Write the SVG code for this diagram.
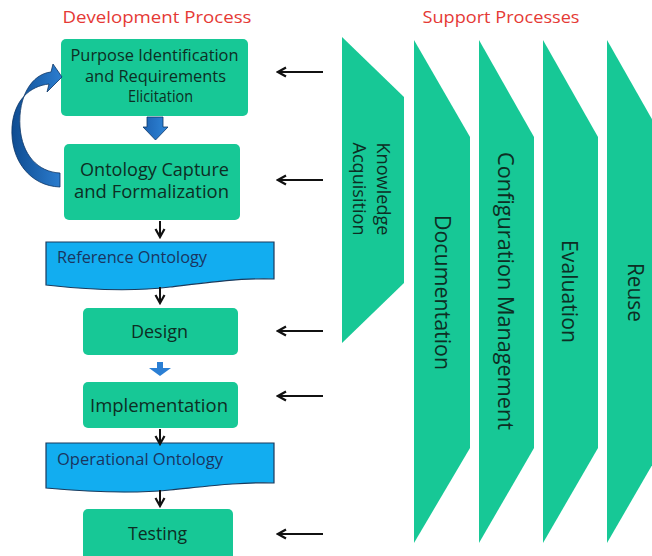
<svg xmlns="http://www.w3.org/2000/svg" width="652" height="556" viewBox="0 0 652 556">
<style>
.bg{fill:#ffffff}
.box{fill:#17c896}
.sup{fill:#17c896}
.t{font-family:"Open Sans","Liberation Sans",sans-serif;fill:#0d2e24}
.bt{font-size:18px;text-anchor:middle}
.bt16{font-size:16px;text-anchor:middle}
.title{font-family:"Open Sans","Liberation Sans",sans-serif;font-size:17px;fill:#e53935;text-anchor:middle}
.ban{fill:#12adf0;stroke:#1b3a5c;stroke-width:1.2}
.bant{font-family:"Open Sans","Liberation Sans",sans-serif;font-size:16px;fill:#1a3560}
.conn{stroke:#111;stroke-width:2;fill:none}
.blue{fill:url(#bg1);stroke:#0b3566;stroke-width:0.8}
.st{font-family:"Open Sans","Liberation Sans",sans-serif;fill:#0d2e24;text-anchor:middle}
</style>
<defs>
<marker id="ah" viewBox="0 0 12 12" refX="10" refY="6" markerWidth="12" markerHeight="12" markerUnits="userSpaceOnUse" orient="auto">
<path d="M2,1.5 L10,6 L2,10.5" fill="none" stroke="#111" stroke-width="2.2"/>
</marker>
<linearGradient id="bg1" x1="0" y1="0" x2="1" y2="0">
<stop offset="0" stop-color="#0f4c91"/>
<stop offset="1" stop-color="#2c7ed0"/>
</linearGradient>
<linearGradient id="bg2" x1="0" y1="0" x2="1" y2="0">
<stop offset="0" stop-color="#1d62b2"/>
<stop offset="1" stop-color="#2f86d8"/>
</linearGradient>
</defs>
<rect class="bg" x="0" y="0" width="652" height="556"/>

<text class="title" x="157" y="23" textLength="189" lengthAdjust="spacingAndGlyphs">Development Process</text>
<text class="title" x="501" y="23" textLength="157" lengthAdjust="spacingAndGlyphs">Support Processes</text>

<g id="support-knowledge">
<polygon class="sup" points="342,37 404,97 404,283 342,343"/>
<g transform="translate(377,189) rotate(90)">
<text class="st" x="0" y="0" font-size="18" textLength="93" lengthAdjust="spacingAndGlyphs">Knowledge</text>
<text class="st" x="0" y="24" font-size="18" textLength="93" lengthAdjust="spacingAndGlyphs">Acquisition</text>
</g>
</g>
<g id="support-documentation">
<polygon class="sup" points="414,40 470,137 470,448 414,543"/>
<text class="st" transform="translate(435,292.5) rotate(90)" font-size="21" textLength="155" lengthAdjust="spacingAndGlyphs">Documentation</text>
</g>
<g id="support-configuration">
<polygon class="sup" points="479,40 534,137 534,448 479,543"/>
<text class="st" transform="translate(498,291) rotate(90)" font-size="21" textLength="278" lengthAdjust="spacingAndGlyphs">Configuration Management</text>
</g>
<g id="support-evaluation">
<polygon class="sup" points="543,40 598,137 598,448 543,543"/>
<text class="st" transform="translate(562,291.5) rotate(90)" font-size="21" textLength="103" lengthAdjust="spacingAndGlyphs">Evaluation</text>
</g>
<g id="support-reuse">
<polygon class="sup" points="607,40 662,137 662,448 607,543"/>
<text class="st" transform="translate(628,292.5) rotate(90)" font-size="21" textLength="59" lengthAdjust="spacingAndGlyphs">Reuse</text>
</g>

<g id="purpose">
<rect class="box" x="61" y="39" width="187" height="77" rx="5"/>
<text class="t bt16" x="154.5" y="61" textLength="168" lengthAdjust="spacingAndGlyphs">Purpose Identification</text>
<text class="t bt16" x="155.5" y="82" textLength="141" lengthAdjust="spacingAndGlyphs">and Requirements</text>
<text class="t bt16" x="160.5" y="102" textLength="65" lengthAdjust="spacingAndGlyphs">Elicitation</text>
</g>
<g id="capture">
<rect class="box" x="64" y="144" width="176" height="76" rx="5"/>
<text class="t bt" x="154.5" y="176" textLength="149" lengthAdjust="spacingAndGlyphs">Ontology Capture</text>
<text class="t bt" x="151.5" y="198" textLength="155" lengthAdjust="spacingAndGlyphs">and Formalization</text>
</g>
<g id="reference-ontology">
<path class="ban" d="M46,242 H274 V279 C240,278 210,282 170,287 C130,292 90,290 46,285 Z"/>
<text class="bant" x="57" y="263" textLength="150" lengthAdjust="spacingAndGlyphs">Reference Ontology</text>
</g>
<g id="design">
<rect class="box" x="83" y="308" width="155" height="47" rx="5"/>
<text class="t bt" x="159.5" y="338" textLength="57" lengthAdjust="spacingAndGlyphs">Design</text>
</g>
<g id="implementation">
<rect class="box" x="83" y="382" width="155" height="46" rx="5"/>
<text class="t bt" x="159" y="412" textLength="138" lengthAdjust="spacingAndGlyphs">Implementation</text>
</g>
<g id="operational-ontology">
<path class="ban" d="M46,443 H274 V483 C240,482 210,486 170,490 C130,494 90,492 46,488 Z"/>
<text class="bant" x="57" y="465" textLength="166" lengthAdjust="spacingAndGlyphs">Operational Ontology</text>
</g>
<g id="testing">
<rect class="box" x="83" y="509" width="150" height="52" rx="5"/>
<text class="t bt" x="157.5" y="540" textLength="59" lengthAdjust="spacingAndGlyphs">Testing</text>
</g>

<g id="connectors">
<path class="blue" d="M60,187 C30,186 10,160 12,127 C14,100 30,86 49,84 L47,92 L62,77 L53,64 L51,72 C32,74 18,96 20,127 C22,155 38,172 60,173 Z"/>
<path fill="url(#bg2)" stroke="#0b3566" stroke-width="0.8" d="M147,117 L163,117 L163,127 L168,127 L155.5,140 L143,127 L147,127 Z"/>
<path fill="#2a7fd4" d="M157,362 L163,362 L163,368 L171,368 L160,376 L149,368 L157,368 Z"/>
<line class="conn" x1="160" y1="221" x2="160" y2="237" marker-end="url(#ah)"/>
<line class="conn" x1="160" y1="287" x2="160" y2="303" marker-end="url(#ah)"/>
<line class="conn" x1="160" y1="429" x2="160" y2="444" marker-end="url(#ah)"/>
<line class="conn" x1="160" y1="490" x2="160" y2="506" marker-end="url(#ah)"/>
<line class="conn" x1="323" y1="72" x2="278" y2="72" marker-end="url(#ah)"/>
<line class="conn" x1="323" y1="180" x2="278" y2="180" marker-end="url(#ah)"/>
<line class="conn" x1="323" y1="331" x2="278" y2="331" marker-end="url(#ah)"/>
<line class="conn" x1="323" y1="396" x2="278" y2="396" marker-end="url(#ah)"/>
<line class="conn" x1="323" y1="534" x2="278" y2="534" marker-end="url(#ah)"/>
</g>
</svg>
